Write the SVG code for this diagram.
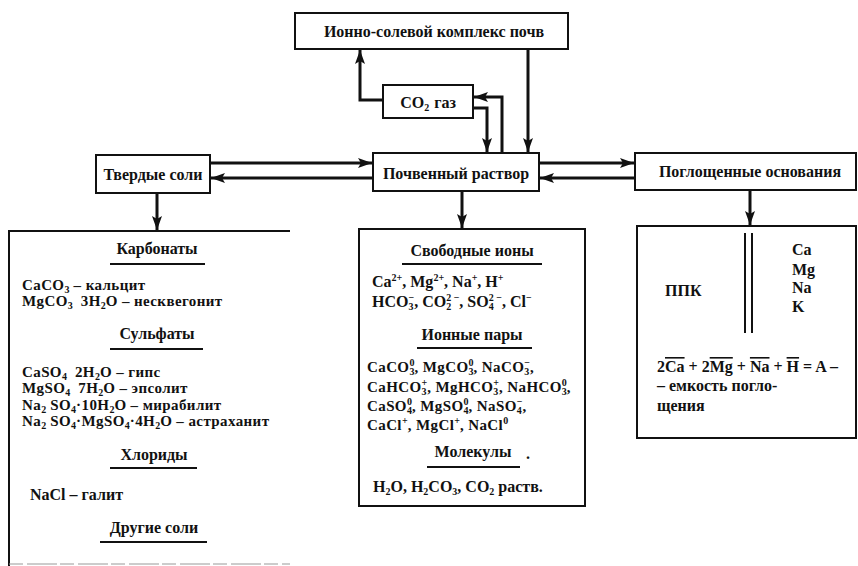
<svg xmlns="http://www.w3.org/2000/svg" width="858" height="566" viewBox="0 0 858 566">
<defs>
<style>
text{font-family:"Liberation Serif","Times New Roman",serif;font-weight:bold;font-size:16px;fill:#111}
.c{text-anchor:middle}
.t{font-size:15px;letter-spacing:0.4px}
.s{font-size:10px;letter-spacing:0}
.box{fill:#fff;stroke:#111;stroke-width:2}
.ln{fill:none;stroke:#111;stroke-width:3}
.ul{stroke:#111;stroke-width:2}
.ov{text-decoration:overline}
</style>
<marker id="ah" markerUnits="userSpaceOnUse" markerWidth="14" markerHeight="10" viewBox="0 0 14 10" refX="14" refY="5" orient="auto">
<path d="M0,0 L14,5 L0,10 L3,5 z" fill="#111"/>
</marker>
</defs>
<rect width="858" height="566" fill="#fff"/>

<g id="connectors">
<path class="ln" d="M383,100 H360 V50" marker-end="url(#ah)"/>
<path class="ln" d="M528,49 V152" marker-end="url(#ah)"/>
<path class="ln" d="M473,108 H487 V152" marker-end="url(#ah)"/>
<path class="ln" d="M502,153 V97 H474" marker-end="url(#ah)"/>
<path class="ln" d="M210,163 H372" marker-end="url(#ah)"/>
<path class="ln" d="M373,178 H211" marker-end="url(#ah)"/>
<path class="ln" d="M539,163 H634" marker-end="url(#ah)"/>
<path class="ln" d="M635,178 H540" marker-end="url(#ah)"/>
<path class="ln" d="M157,193 V230" marker-end="url(#ah)"/>
<path class="ln" d="M462,191 V228" marker-end="url(#ah)"/>
<path class="ln" d="M750,190 V225" marker-end="url(#ah)"/>
</g>

<g id="ionno">
<rect class="box" x="295" y="13" width="273" height="36"/>
<text class="c" x="434" y="37">Ионно-солевой комплекс почв</text>
</g>

<g id="co2">
<rect class="box" x="383" y="85" width="90" height="33"/>
<text class="c" x="428" y="108">CO<tspan class="s" dy="3">2</tspan><tspan dy="-3" dx="5">газ</tspan></text>
</g>

<g id="tverdye">
<rect class="box" x="96" y="155" width="114" height="38"/>
<text class="c" x="153" y="180">Твердые соли</text>
</g>

<g id="pochv">
<rect class="box" x="373" y="153" width="166" height="38"/>
<text class="c" x="456" y="179">Почвенный раствор</text>
</g>

<g id="poglosh">
<rect class="box" x="635" y="153" width="221" height="37"/>
<text class="c" x="750" y="177">Поглощенные основания</text>
</g>

<g id="soli">
<path d="M9,566 V231 H290" fill="none" stroke="#111" stroke-width="2"/>
<path d="M9,564 H290" fill="none" stroke="#999" stroke-width="1" stroke-dasharray="14 4 30 3"/>
<text class="c" x="157" y="254">Карбонаты</text>
<line class="ul" x1="110" y1="264" x2="205" y2="264"/>
<text class="t" x="22" y="290">CaCO<tspan class="s" dy="3">3</tspan><tspan dy="-3"> – кальцит</tspan></text>
<text class="t" x="22" y="306">MgCO<tspan class="s" dy="3">3</tspan><tspan dy="-3" dx="8">3H</tspan><tspan class="s" dy="3">2</tspan><tspan dy="-3">O – несквегонит</tspan></text>
<text class="c" x="157" y="339">Сульфаты</text>
<line class="ul" x1="110" y1="349" x2="203" y2="349"/>
<text class="t" x="22" y="377">CaSO<tspan class="s" dy="3">4</tspan><tspan dy="-3" dx="8">2H</tspan><tspan class="s" dy="3">2</tspan><tspan dy="-3">O – гипс</tspan></text>
<text class="t" x="22" y="393">MgSO<tspan class="s" dy="3">4</tspan><tspan dy="-3" dx="8">7H</tspan><tspan class="s" dy="3">2</tspan><tspan dy="-3">O – эпсолит</tspan></text>
<text class="t" x="22" y="410">Na<tspan class="s" dy="3">2</tspan><tspan dy="-3"> SO</tspan><tspan class="s" dy="3">4</tspan><tspan dy="-3">·10H</tspan><tspan class="s" dy="3">2</tspan><tspan dy="-3">O – мирабилит</tspan></text>
<text class="t" x="22" y="426">Na<tspan class="s" dy="3">2</tspan><tspan dy="-3"> SO</tspan><tspan class="s" dy="3">4</tspan><tspan dy="-3">·MgSO</tspan><tspan class="s" dy="3">4</tspan><tspan dy="-3">·4H</tspan><tspan class="s" dy="3">2</tspan><tspan dy="-3">O – астраханит</tspan></text>
<text class="c" x="154" y="460">Хлориды</text>
<line class="ul" x1="110" y1="468" x2="197" y2="468"/>
<text x="30" y="500">NaCl – галит</text>
<text class="c" x="154" y="533">Другие соли</text>
<line class="ul" x1="100" y1="542" x2="207" y2="542"/>
</g>

<g id="rastvor">
<rect class="box" x="359" y="229" width="226" height="277"/>
<text class="c" x="472" y="256">Свободные ионы</text>
<line class="ul" x1="402" y1="264" x2="542" y2="264"/>
<text x="372" y="287">Ca<tspan class="s" dy="-6">2+</tspan><tspan dy="6">, Mg</tspan><tspan class="s" dy="-6">2+</tspan><tspan dy="6">, Na</tspan><tspan class="s" dy="-6">+</tspan><tspan dy="6">, H</tspan><tspan class="s" dy="-6">+</tspan></text>
<text x="372" y="307">HCO<tspan class="s" dy="3">3</tspan><tspan class="s" dx="-5" dy="-9">−</tspan><tspan dy="6">, CO</tspan><tspan class="s" dy="3">2</tspan><tspan class="s" dx="-5" dy="-9">2 −</tspan><tspan dy="6">, SO</tspan><tspan class="s" dy="3">4</tspan><tspan class="s" dx="-5" dy="-9">2 −</tspan><tspan dy="6">, Cl</tspan><tspan class="s" dy="-6">−</tspan></text>
<text class="c" x="472" y="340">Ионные пары</text>
<line class="ul" x1="417" y1="348" x2="532" y2="348"/>
<text class="t" x="367" y="372">CaCO<tspan class="s" dy="3">3</tspan><tspan class="s" dx="-5" dy="-9">0</tspan><tspan dy="6">, MgCO</tspan><tspan class="s" dy="3">3</tspan><tspan class="s" dx="-5" dy="-9">0</tspan><tspan dy="6">, NaCO</tspan><tspan class="s" dy="3">3</tspan><tspan class="s" dx="-5" dy="-9">−</tspan><tspan dy="6">,</tspan></text>
<text class="t" x="367" y="392">CaHCO<tspan class="s" dy="3">3</tspan><tspan class="s" dx="-5" dy="-9">+</tspan><tspan dy="6">, MgHCO</tspan><tspan class="s" dy="3">3</tspan><tspan class="s" dx="-5" dy="-9">+</tspan><tspan dy="6">, NaHCO</tspan><tspan class="s" dy="3">3</tspan><tspan class="s" dx="-5" dy="-9">0</tspan><tspan dy="6">,</tspan></text>
<text class="t" x="367" y="411">CaSO<tspan class="s" dy="3">4</tspan><tspan class="s" dx="-5" dy="-9">0</tspan><tspan dy="6">, MgSO</tspan><tspan class="s" dy="3">4</tspan><tspan class="s" dx="-5" dy="-9">0</tspan><tspan dy="6">, NaSO</tspan><tspan class="s" dy="3">4</tspan><tspan class="s" dx="-5" dy="-9">−</tspan><tspan dy="6">,</tspan></text>
<text class="t" x="367" y="430">CaCl<tspan class="s" dy="-6">+</tspan><tspan dy="6">, MgCl</tspan><tspan class="s" dy="-6">+</tspan><tspan dy="6">, NaCl</tspan><tspan class="s" dy="-6">0</tspan></text>
<text class="c" x="473" y="457">Молекулы</text>
<text x="526" y="459">.</text>
<line class="ul" x1="427" y1="467" x2="520" y2="467"/>
<text x="373" y="492">H<tspan class="s" dy="3">2</tspan><tspan dy="-3">O, H</tspan><tspan class="s" dy="3">2</tspan><tspan dy="-3">CO</tspan><tspan class="s" dy="3">3</tspan><tspan dy="-3">, CO</tspan><tspan class="s" dy="3">2</tspan><tspan dy="-3"> раств.</tspan></text>
</g>

<g id="ppk">
<rect class="box" x="637" y="226" width="219" height="212"/>
<line class="ul" x1="745" y1="233" x2="745" y2="333"/>
<line class="ul" x1="752" y1="233" x2="752" y2="333"/>
<text x="665" y="296">ППК</text>
<text x="792" y="255">Ca</text>
<text x="792" y="275">Mg</text>
<text x="792" y="293">Na</text>
<text x="792" y="312">K</text>
<text x="657" y="372">2<tspan class="ov">Ca</tspan> + 2<tspan class="ov">Mg</tspan> + <tspan class="ov">Na</tspan> + <tspan class="ov">H</tspan> = A –</text>
<text x="657" y="391">– емкость погло-</text>
<text x="657" y="411">щения</text>
</g>
</svg>
